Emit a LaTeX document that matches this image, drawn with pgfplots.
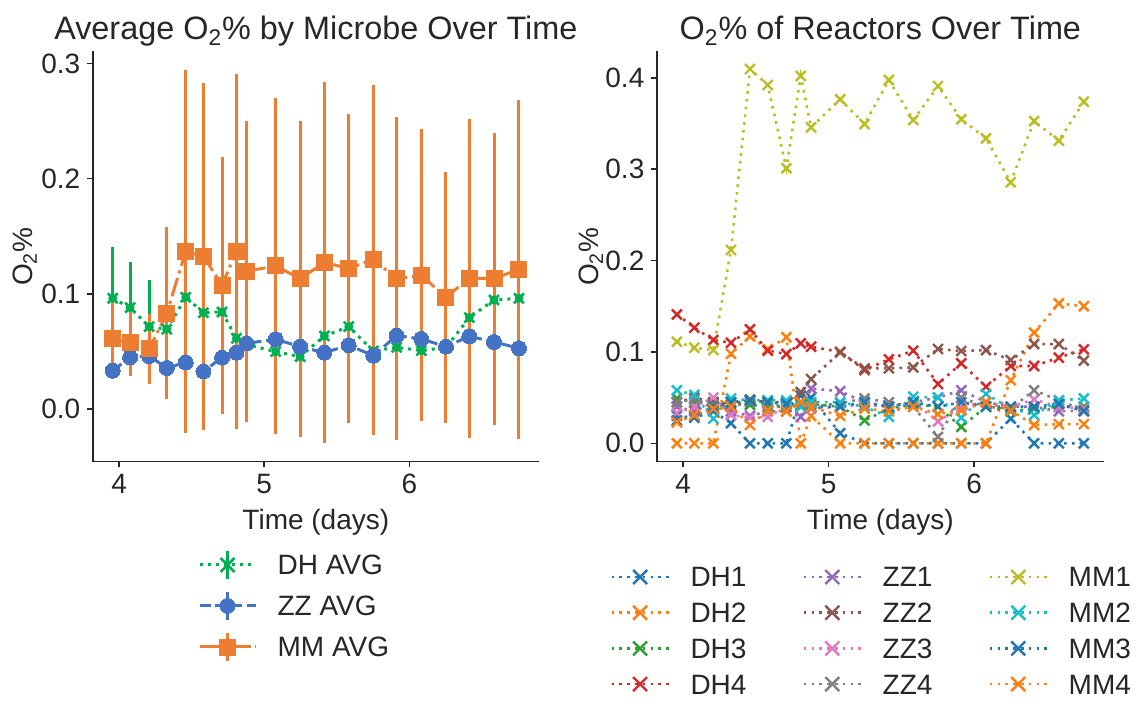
\documentclass[border=0pt]{standalone}
\usepackage{fontspec}
\setmainfont{Liberation Sans}
\usepackage{pgfplots}
\pgfplotsset{compat=1.18}
\definecolor{axcol}{HTML}{262626}
\definecolor{dhgreen}{HTML}{00B050}
\definecolor{zzblue}{HTML}{4472C4}
\definecolor{mmorange}{HTML}{ED7D31}
\definecolor{tblue}{HTML}{1F77B4}
\definecolor{torange}{HTML}{FF7F0E}
\definecolor{tgreen}{HTML}{2CA02C}
\definecolor{tred}{HTML}{D62728}
\definecolor{tpurple}{HTML}{9467BD}
\definecolor{tbrown}{HTML}{8C564B}
\definecolor{tpink}{HTML}{E377C2}
\definecolor{tgray}{HTML}{7F7F7F}
\definecolor{tolive}{HTML}{BCBD22}
\definecolor{tcyan}{HTML}{17BECF}
\pgfplotsset{
  base/.style={
    scale only axis, anchor=south west,
    xmin=3.818, xmax=6.893,
    axis x line*=bottom, axis y line*=left,
    axis line style={-, draw=axcol, line width=0.8pt},
    tick style={draw=axcol, line width=0.8pt},
    tick align=outside, major tick length=2.7pt,
    xtick={4,5,6},
    font=\fontsize{14}{17}\selectfont,
    tick label style={font=\fontsize{14}{17}\selectfont, text=axcol},
    /pgf/number format/assume math mode=true,
    yticklabel style={/pgf/number format/.cd, fixed, fixed zerofill, precision=1},
    label style={font=\fontsize{14}{17}\selectfont, text=axcol},
    title style={font=\fontsize{16.2}{19}\selectfont, text=axcol, at={(axis description cs:0.5,1)}, anchor=base, yshift=-0.25pt},
    xlabel={Time (days)},
    ylabel={O\textsubscript{2}\%},
    xlabel style={at={(axis description cs:0.5,-0.1668)}, anchor=base},
    legend style={draw=none, fill=none, inner sep=0pt, outer sep=0pt, row sep=0pt,
      font=\fontsize{14}{17}\selectfont, text=axcol,
      /tikz/every odd column/.append style={column sep=10.3pt},
      /tikz/every even column/.append style={column sep=28pt}},
    legend cell align=left,
  },
  rl/.style={color=#1, line width=1.3pt, dash pattern=on 1.3pt off 2.6pt, mark=x, mark size=3.5pt, mark options={solid, line width=1.2pt}},
  rleg/.style={legend image code/.code={
    \draw[color=#1, line width=1.3pt, dash pattern=on 1.3pt off 2.6pt] (0pt,0pt)--(28.5pt,0pt);
    \draw[color=#1, line width=1.2pt] (10.75pt,-3.5pt)--(17.75pt,3.5pt) (10.75pt,3.5pt)--(17.75pt,-3.5pt);}},
  dhleg/.style={legend image code/.code={
    \draw[dhgreen, line width=1.5pt] (14pt,-7pt)--(14pt,7pt);
    \draw[dhgreen, line width=1.5pt, dash pattern=on 1.5pt off 2.5pt] (0pt,0pt)--(28pt,0pt);
    \draw[dhgreen, line width=1.3pt] (10.5pt,-3.5pt)--(17.5pt,3.5pt) (10.5pt,3.5pt)--(17.5pt,-3.5pt);}},
  zzleg/.style={legend image code/.code={
    \draw[zzblue, line width=1.5pt] (14pt,-7pt)--(14pt,7pt);
    \draw[zzblue, line width=1.5pt, dash pattern=on 5.5pt off 2.4pt] (0pt,0pt)--(28pt,0pt);
    \fill[zzblue] (14pt,0pt) circle (3.75pt);}},
  mmleg/.style={legend image code/.code={
    \draw[mmorange, line width=1.5pt] (14pt,-7pt)--(14pt,7pt);
    \draw[mmorange, line width=1.5pt, dash pattern=on 9.6pt off 2.4pt on 1.5pt off 2.4pt] (0pt,0pt)--(28pt,0pt);
    \fill[mmorange] (10pt,-4pt) rectangle (18pt,4pt);}},
}
\pgfplotstableread{
t dh dhe zz zze mm mme
3.956 0.0962 0.0448 0.0335 0.007 0.0610 0.0340
4.076 0.0881 0.0394 0.0451 0.006 0.0578 0.0286
4.207 0.0717 0.0404 0.0462 0.006 0.0523 0.0300
4.328 0.0694 0.0250 0.0358 0.006 0.0832 0.0745
4.459 0.0971 0.0250 0.0407 0.006 0.1370 0.1576
4.581 0.0838 0.0250 0.0329 0.006 0.1327 0.1503
4.709 0.0844 0.0250 0.0448 0.006 0.1075 0.1116
4.808 0.0616 0.0250 0.0491 0.006 0.1370 0.1538
4.879 0.0560 0.0200 0.0572 0.006 0.1197 0.1306
5.079 0.0500 0.0200 0.0607 0.006 0.1243 0.1460
5.247 0.0456 0.0200 0.0543 0.006 0.1133 0.1370
5.414 0.0636 0.0200 0.0491 0.006 0.1272 0.1564
5.582 0.0717 0.0200 0.0555 0.006 0.1223 0.1338
5.752 0.0506 0.0200 0.0465 0.006 0.1298 0.1518
5.912 0.0537 0.0200 0.0639 0.006 0.1133 0.1400
6.082 0.0509 0.0200 0.0610 0.006 0.1162 0.1266
6.252 0.0535 0.0200 0.0543 0.006 0.0971 0.1090
6.413 0.0795 0.0200 0.0633 0.006 0.1136 0.1382
6.583 0.0948 0.0200 0.0584 0.006 0.1133 0.1266
6.755 0.0962 0.0200 0.0529 0.006 0.1214 0.1469
}\avgtab
\pgfplotstableread{
t DHa DHb DHc DHd ZZa ZZb ZZc ZZd MMa MMb MMc MMd
3.956 0.030 0.000 0.049 0.1410 0.040 0.045 0.033 0.045 0.1112 0.058 0.025 0.023
4.076 0.028 0.000 0.045 0.1265 0.035 0.050 0.040 0.048 0.1046 0.053 0.030 0.031
4.207 0.035 0.000 0.043 0.1130 0.045 0.045 0.050 0.042 0.1020 0.027 0.040 0.038
4.328 0.022 0.098 0.045 0.1100 0.035 0.042 0.031 0.040 0.2115 0.049 0.045 0.040
4.459 0.000 0.117 0.042 0.1247 0.030 0.048 0.028 0.045 0.4095 0.047 0.047 0.020
4.581 0.000 0.103 0.040 0.1013 0.035 0.045 0.029 0.043 0.3920 0.047 0.045 0.036
4.709 0.000 0.116 0.040 0.0977 0.035 0.045 0.040 0.040 0.3009 0.047 0.043 0.035
4.808 0.052 0.000 0.042 0.1094 0.029 0.056 0.040 0.045 0.4019 0.040 0.045 0.045
4.879 0.050 0.030 0.043 0.1057 0.060 0.0703 0.038 0.040 0.3457 0.045 0.040 0.040
5.079 0.011 0.000 0.040 0.1000 0.057 0.0995 0.040 0.044 0.3764 0.045 0.040 0.030
5.247 0.000 0.000 0.025 0.0802 0.045 0.0820 0.042 0.049 0.3493 0.040 0.045 0.038
5.414 0.000 0.000 0.038 0.0919 0.040 0.0820 0.040 0.045 0.3975 0.029 0.040 0.035
5.582 0.000 0.000 0.043 0.1013 0.045 0.0831 0.045 0.040 0.3537 0.051 0.045 0.040
5.752 0.000 0.000 0.040 0.0649 0.050 0.1032 0.024 0.007 0.3909 0.050 0.040 0.032
5.912 0.000 0.000 0.018 0.0875 0.058 0.1010 0.040 0.050 0.3545 0.028 0.045 0.036
6.082 0.000 0.000 0.040 0.0619 0.045 0.1020 0.045 0.040 0.3337 0.054 0.040 0.045
6.252 0.027 0.069 0.035 0.0846 0.040 0.0911 0.040 0.038 0.2856 0.038 0.040 0.036
6.413 0.000 0.121 0.038 0.0846 0.040 0.1086 0.048 0.058 0.3526 0.031 0.040 0.020
6.583 0.000 0.153 0.040 0.0937 0.035 0.1086 0.040 0.047 0.3311 0.047 0.043 0.021
6.755 0.000 0.150 0.040 0.1028 0.036 0.0904 0.038 0.036 0.3738 0.049 0.035 0.021
}\rtab
\begin{document}
\begin{tikzpicture}[x=1pt,y=1pt]
\useasboundingbox (0,0) rectangle (572.5,353.5);
% LEFT
\begin{axis}[base, at={(46.35pt,122.75pt)}, width=223.15pt, height=205pt,
  ymin=-0.0453, ymax=0.3103, ytick={0,0.1,0.2,0.3},
  title={Average O\textsubscript{2}\% by Microbe Over Time},
  ylabel style={at={(axis description cs:-0.1517,0.5)}, anchor=center},
  legend style={at={(axis description cs:0.236,-0.2024)}, anchor=north west,
    nodes={inner xsep=0pt, inner ysep=0pt, text height=15.25pt, text depth=5.25pt}},
]
\addplot[forget plot, only marks, mark=none, color=dhgreen, error bars/.cd, y dir=both, y explicit, error mark=none, error bar style={line width=1.5pt, solid, dhgreen}] table[x=t, y=dh, y error=dhe] {\avgtab};
\addplot[forget plot, only marks, mark=none, color=zzblue, error bars/.cd, y dir=both, y explicit, error mark=none, error bar style={line width=1.5pt, solid, zzblue}] table[x=t, y=zz, y error=zze] {\avgtab};
\addplot[forget plot, only marks, mark=none, color=mmorange, error bars/.cd, y dir=both, y explicit, error mark=none, error bar style={line width=1.5pt, solid, mmorange}] table[x=t, y=mm, y error=mme] {\avgtab};
\addplot[forget plot, dhgreen, line width=1.5pt, dash pattern=on 1.5pt off 2.5pt, mark=x, mark size=3.5pt, mark options={solid, line width=1.3pt}] table[x=t, y=dh] {\avgtab};
\addplot[forget plot, zzblue, line width=1.5pt, dash pattern=on 5.5pt off 2.4pt, mark=*, mark size=3.75pt, mark options={solid, draw=zzblue, fill=zzblue, line width=0pt}] table[x=t, y=zz] {\avgtab};
\addplot[forget plot, mmorange, line width=1.5pt, dash pattern=on 9.6pt off 2.4pt on 1.5pt off 2.4pt, mark=square*, mark size=4pt, mark options={solid, draw=mmorange, fill=mmorange, line width=0pt}] table[x=t, y=mm] {\avgtab};
\addlegendimage{dhleg}\addlegendentry{DH AVG}
\addlegendimage{zzleg}\addlegendentry{ZZ AVG}
\addlegendimage{mmleg}\addlegendentry{MM AVG}
\end{axis}
% RIGHT
\begin{axis}[base, at={(328.4pt,122.75pt)}, width=223.55pt, height=205pt,
  ymin=-0.0199, ymax=0.4287, ytick={0,0.1,0.2,0.3,0.4},
  title={O\textsubscript{2}\% of Reactors Over Time},
  ylabel style={at={(axis description cs:-0.147,0.5)}, anchor=center},
  legend columns=3,
  legend style={at={(axis description cs:-0.104,-0.2382)}, anchor=north west,
    nodes={inner xsep=0pt, inner ysep=0pt, text height=13.9pt, text depth=3.95pt}},
]
\addplot[forget plot, rl=tblue] table[x=t, y=DHa] {\rtab};
\addplot[forget plot, rl=torange] table[x=t, y=DHb] {\rtab};
\addplot[forget plot, rl=tgreen] table[x=t, y=DHc] {\rtab};
\addplot[forget plot, rl=tred] table[x=t, y=DHd] {\rtab};
\addplot[forget plot, rl=tpurple] table[x=t, y=ZZa] {\rtab};
\addplot[forget plot, rl=tbrown] table[x=t, y=ZZb] {\rtab};
\addplot[forget plot, rl=tpink] table[x=t, y=ZZc] {\rtab};
\addplot[forget plot, rl=tgray] table[x=t, y=ZZd] {\rtab};
\addplot[forget plot, rl=tolive] table[x=t, y=MMa] {\rtab};
\addplot[forget plot, rl=tcyan] table[x=t, y=MMb] {\rtab};
\addplot[forget plot, rl=tblue] table[x=t, y=MMc] {\rtab};
\addplot[forget plot, rl=torange] table[x=t, y=MMd] {\rtab};
\addlegendimage{rleg=tblue}\addlegendentry{DH1}
\addlegendimage{rleg=tpurple}\addlegendentry{ZZ1}
\addlegendimage{rleg=tolive}\addlegendentry{MM1}
\addlegendimage{rleg=torange}\addlegendentry{DH2}
\addlegendimage{rleg=tbrown}\addlegendentry{ZZ2}
\addlegendimage{rleg=tcyan}\addlegendentry{MM2}
\addlegendimage{rleg=tgreen}\addlegendentry{DH3}
\addlegendimage{rleg=tpink}\addlegendentry{ZZ3}
\addlegendimage{rleg=tblue}\addlegendentry{MM3}
\addlegendimage{rleg=tred}\addlegendentry{DH4}
\addlegendimage{rleg=tgray}\addlegendentry{ZZ4}
\addlegendimage{rleg=torange}\addlegendentry{MM4}
\end{axis}
\end{tikzpicture}
\end{document}
